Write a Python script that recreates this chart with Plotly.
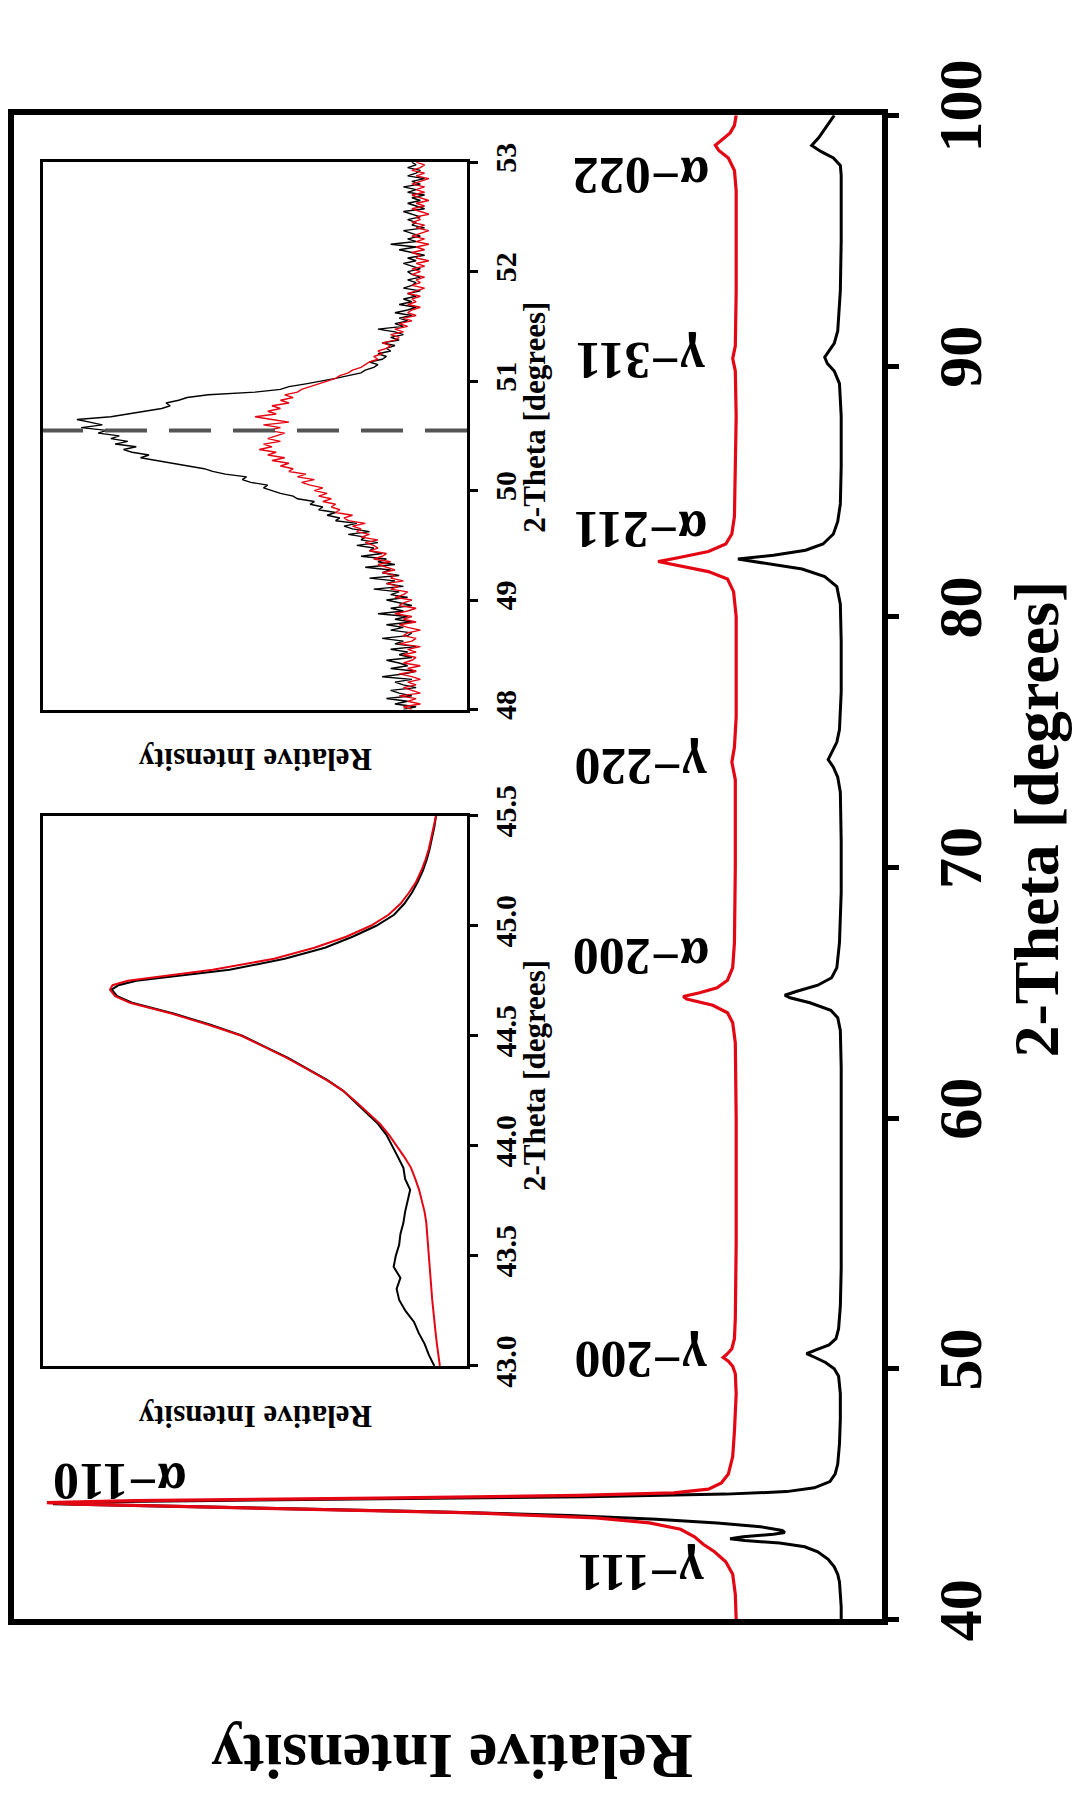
import plotly.graph_objects as go

# ---------------- main XRD patterns (2-theta, relative intensity) ----------------
theta_black = [40.0, 40.5, 41.0, 41.5, 41.8, 42.1, 42.4, 42.7, 42.9, 43.05, 43.15, 43.22, 43.3, 43.4,
               43.47, 43.55, 43.7, 43.85, 44.0, 44.15, 44.3, 44.45, 44.55, 44.62, 44.7, 44.8, 44.9,
               45.0, 45.1, 45.25, 45.5, 45.8, 46.2, 47.0, 48.0, 49.0, 49.7, 50.0, 50.25, 50.45, 50.6,
               50.75, 50.95, 51.2, 51.6, 52.5, 54.0, 56.0, 58.0, 60.0, 62.0, 63.5, 64.0, 64.3, 64.6,
               64.8, 64.9, 65.05, 65.3, 65.6, 66.0, 67.0, 69.0, 71.0, 73.0, 73.6, 74.0, 74.3, 74.6,
               75.0, 75.5, 77.0, 79.0, 80.5, 81.2, 81.6, 81.9, 82.1, 82.3, 82.45, 82.65, 82.9, 83.3,
               83.8, 84.5, 86.0, 88.0, 89.3, 89.8, 90.1, 90.35, 90.6, 90.9, 91.4, 93.0, 95.0, 97.0,
               97.6, 98.0, 98.3, 98.55, 98.8, 99.1, 99.4, 99.7, 100.0]
int_black = [0.047, 0.047, 0.048, 0.049, 0.051, 0.055, 0.062, 0.074, 0.089, 0.118, 0.158, 0.175, 0.160, 0.125,
             0.112, 0.115, 0.140, 0.190, 0.260, 0.360, 0.520, 0.740, 0.880, 0.955, 0.900, 0.620, 0.340,
             0.180, 0.110, 0.078, 0.060, 0.054, 0.051, 0.049, 0.048, 0.048, 0.050, 0.055, 0.065, 0.077, 0.087,
             0.076, 0.061, 0.053, 0.050, 0.048, 0.047, 0.047, 0.047, 0.047, 0.047, 0.048, 0.051, 0.059, 0.083,
             0.106, 0.112, 0.099, 0.074, 0.058, 0.052, 0.049, 0.047, 0.047, 0.048, 0.051, 0.056, 0.062, 0.058,
             0.052, 0.049, 0.047, 0.047, 0.048, 0.052, 0.066, 0.092, 0.130, 0.166, 0.125, 0.088, 0.068, 0.056,
             0.051, 0.048, 0.047, 0.047, 0.049, 0.055, 0.063, 0.066, 0.061, 0.055, 0.051, 0.048, 0.047, 0.047,
             0.047, 0.048, 0.056, 0.070, 0.081, 0.073, 0.067, 0.060, 0.055]

theta_red = [40.0, 41.0, 41.8, 42.3, 42.7, 43.0, 43.3, 43.6, 43.85, 44.05, 44.25, 44.4, 44.52, 44.6, 44.66,
             44.74, 44.84, 44.95, 45.05, 45.2, 45.45, 45.8, 46.5, 47.5, 49.0, 49.8, 50.1, 50.3, 50.45,
             50.6, 50.8, 51.2, 52.0, 55.0, 60.0, 63.0, 63.8, 64.2, 64.5, 64.75, 64.85, 65.0, 65.2, 65.5,
             66.0, 67.0, 70.0, 73.5, 74.2, 74.8, 76.0, 80.0, 81.0, 81.5, 81.8, 82.05, 82.2, 82.35, 82.6,
             82.9, 83.3, 84.0, 88.0, 89.8, 90.3, 90.8, 93.0, 97.0, 97.8, 98.3, 98.6, 98.8, 99.0, 99.3,
             99.6, 100.0]
int_red = [0.168, 0.169, 0.172, 0.180, 0.193, 0.206, 0.216, 0.232, 0.268, 0.330, 0.470, 0.660, 0.840, 0.930, 0.962,
           0.860, 0.580, 0.350, 0.240, 0.200, 0.185, 0.177, 0.172, 0.170, 0.168, 0.169, 0.172, 0.177, 0.183,
           0.178, 0.173, 0.170, 0.169, 0.168, 0.168, 0.169, 0.172, 0.178, 0.195, 0.225, 0.229, 0.210, 0.190, 0.178,
           0.172, 0.170, 0.169, 0.169, 0.173, 0.170, 0.168, 0.168, 0.171, 0.178, 0.200, 0.235, 0.258, 0.235, 0.200,
           0.180, 0.173, 0.170, 0.168, 0.169, 0.172, 0.169, 0.168, 0.168, 0.170, 0.177, 0.188, 0.192, 0.185, 0.175,
           0.170, 0.168]

# peak labels
peak_names = ["γ−111", "α−110", "γ−200", "α−200", "γ−220", "α−211", "γ−311", "α−022"]
peak_label_theta = [41.9, 45.5, 50.4, 66.45, 74.0, 83.5, 90.2, 97.6]
peak_label_int = [0.278, 0.878, 0.278, 0.278, 0.278, 0.278, 0.278, 0.278]

main_ticks = [40, 50, 60, 70, 80, 90, 100]

# ---------------- inset A : 48 - 53 degrees (gamma-200 region), 0.025 deg steps ----------------
insetA_theta = [round(48.0 + 0.025 * k, 3) for k in range(201)]
insetA_black = [
    0.15, 0.12, 0.17, 0.14, 0.19, 0.13, 0.16, 0.18, 0.12, 0.15,
    0.17, 0.13, 0.20, 0.15, 0.12, 0.18, 0.14, 0.16, 0.19, 0.13,
    0.16, 0.14, 0.18, 0.12, 0.17, 0.15, 0.20, 0.14, 0.13, 0.18,
    0.15, 0.19, 0.13, 0.17, 0.14, 0.21, 0.15, 0.18, 0.13, 0.16,
    0.19, 0.14, 0.18, 0.16, 0.22, 0.15, 0.19, 0.17, 0.23, 0.16,
    0.20, 0.18, 0.24, 0.17, 0.21, 0.19, 0.25, 0.20, 0.23, 0.22,
    0.26, 0.21, 0.25, 0.24, 0.28, 0.23, 0.27, 0.29, 0.26, 0.31,
    0.30, 0.33, 0.31, 0.35, 0.34, 0.37, 0.36, 0.40, 0.41, 0.44,
    0.46, 0.48, 0.47, 0.51, 0.53, 0.52, 0.57, 0.60, 0.62, 0.66,
    0.70, 0.74, 0.77, 0.75, 0.79, 0.81, 0.78, 0.83, 0.80, 0.84,
    0.82, 0.87, 0.85, 0.91, 0.86, 0.89, 0.92, 0.84, 0.80, 0.76,
    0.72, 0.70, 0.71, 0.68, 0.66, 0.61, 0.50, 0.44, 0.42, 0.38,
    0.34, 0.31, 0.28, 0.25, 0.24, 0.22, 0.21, 0.23, 0.20, 0.19,
    0.21, 0.18, 0.19, 0.17, 0.20, 0.16, 0.18, 0.15, 0.17, 0.21,
    0.15, 0.17, 0.14, 0.16, 0.13, 0.17, 0.14, 0.12, 0.16, 0.13,
    0.15, 0.12, 0.14, 0.11, 0.15, 0.13, 0.12, 0.14, 0.11, 0.13,
    0.14, 0.11, 0.13, 0.15, 0.12, 0.14, 0.10, 0.13, 0.16, 0.12,
    0.18, 0.12, 0.14, 0.11, 0.13, 0.15, 0.10, 0.13, 0.12, 0.14,
    0.11, 0.13, 0.15, 0.10, 0.12, 0.14, 0.11, 0.13, 0.10, 0.14,
    0.12, 0.15, 0.11, 0.13, 0.10, 0.14, 0.12, 0.11, 0.14, 0.12,
    0.13]
insetA_red = [
    0.13, 0.15, 0.11, 0.14, 0.12, 0.16, 0.11, 0.13, 0.15, 0.12,
    0.14, 0.11, 0.13, 0.16, 0.12, 0.14, 0.11, 0.15, 0.13, 0.12,
    0.15, 0.12, 0.14, 0.11, 0.16, 0.13, 0.12, 0.15, 0.14, 0.11,
    0.14, 0.16, 0.12, 0.15, 0.13, 0.17, 0.14, 0.12, 0.16, 0.15,
    0.13, 0.17, 0.15, 0.14, 0.18, 0.16, 0.19, 0.15, 0.18, 0.17,
    0.20, 0.17, 0.19, 0.21, 0.18, 0.22, 0.20, 0.19, 0.23, 0.21,
    0.22, 0.24, 0.21, 0.25, 0.23, 0.26, 0.25, 0.27, 0.24, 0.28,
    0.29, 0.27, 0.31, 0.30, 0.32, 0.31, 0.34, 0.32, 0.35, 0.33,
    0.36, 0.34, 0.37, 0.39, 0.36, 0.40, 0.38, 0.42, 0.41, 0.44,
    0.42, 0.46, 0.43, 0.47, 0.45, 0.49, 0.46, 0.48, 0.44, 0.47,
    0.45, 0.43, 0.47, 0.44, 0.48, 0.42, 0.46, 0.50, 0.45, 0.47,
    0.44, 0.46, 0.42, 0.44, 0.41, 0.43, 0.40, 0.39, 0.37, 0.35,
    0.33, 0.31, 0.30, 0.28, 0.27, 0.25, 0.24, 0.23, 0.21, 0.22,
    0.20, 0.21, 0.19, 0.18, 0.20, 0.17, 0.16, 0.18, 0.15, 0.17,
    0.14, 0.16, 0.13, 0.15, 0.12, 0.14, 0.13, 0.11, 0.14, 0.12,
    0.13, 0.11, 0.14, 0.12, 0.10, 0.13, 0.11, 0.12, 0.10, 0.13,
    0.11, 0.13, 0.10, 0.12, 0.09, 0.12, 0.11, 0.13, 0.10, 0.12,
    0.09, 0.12, 0.10, 0.13, 0.11, 0.09, 0.12, 0.10, 0.13, 0.11,
    0.12, 0.09, 0.11, 0.13, 0.10, 0.12, 0.09, 0.11, 0.13, 0.10,
    0.12, 0.10, 0.13, 0.11, 0.09, 0.12, 0.10, 0.13, 0.11, 0.10,
    0.12]
insetA_marker_theta = 50.55
insetA_ticks = [48, 49, 50, 51, 52, 53]

# ---------------- inset B : 43.0 - 45.5 degrees (alpha-110 region) ----------------
insetB_theta = [43.00, 43.05, 43.10, 43.15, 43.20, 43.25, 43.30, 43.35, 43.40, 43.45, 43.50, 43.55, 43.60, 43.65,
                43.70, 43.75, 43.80, 43.85, 43.90, 43.95, 44.00, 44.05, 44.10, 44.15, 44.20, 44.25, 44.30, 44.35,
                44.40, 44.45, 44.50, 44.55, 44.60, 44.65, 44.68, 44.71, 44.73, 44.75, 44.80, 44.85, 44.90, 44.95,
                45.00, 45.05, 45.10, 45.15, 45.20, 45.25, 45.30, 45.35, 45.40, 45.45, 45.50]
insetB_black = [0.077, 0.090, 0.100, 0.114, 0.125, 0.145, 0.160, 0.166, 0.157, 0.173, 0.168, 0.160, 0.157, 0.150,
                0.146, 0.140, 0.134, 0.146, 0.150, 0.163, 0.176, 0.190, 0.210, 0.238, 0.264, 0.292, 0.330, 0.376,
                0.422, 0.476, 0.530, 0.605, 0.690, 0.790, 0.825, 0.838, 0.822, 0.780, 0.560, 0.430, 0.335, 0.270,
                0.214, 0.172, 0.148, 0.130, 0.116, 0.104, 0.095, 0.088, 0.082, 0.077, 0.073]
insetB_red = [0.064, 0.068, 0.071, 0.074, 0.077, 0.080, 0.082, 0.084, 0.086, 0.088, 0.090, 0.091, 0.093, 0.096,
              0.100, 0.106, 0.113, 0.122, 0.132, 0.148, 0.165, 0.184, 0.205, 0.233, 0.262, 0.292, 0.332, 0.378,
              0.425, 0.478, 0.532, 0.610, 0.695, 0.795, 0.830, 0.842, 0.836, 0.800, 0.600, 0.455, 0.360, 0.285,
              0.227, 0.185, 0.157, 0.137, 0.120, 0.108, 0.098, 0.090, 0.084, 0.078, 0.073]
insetB_ticks = [43.0, 43.5, 44.0, 44.5, 45.0, 45.5]

BLACK = "#000000"
RED = "#e30613"
SERIF = "Liberation Serif"

fig = go.Figure()

# main traces
fig.add_trace(go.Scatter(x=int_black, y=theta_black, mode="lines",
                         line=dict(color=BLACK, width=3), xaxis="x", yaxis="y", hoverinfo="skip"))
fig.add_trace(go.Scatter(x=int_red, y=theta_red, mode="lines",
                         line=dict(color=RED, width=3.2), xaxis="x", yaxis="y", hoverinfo="skip"))

# inset A traces
fig.add_trace(go.Scatter(x=insetA_black, y=insetA_theta, mode="lines",
                         line=dict(color=BLACK, width=1.4), xaxis="x2", yaxis="y2", hoverinfo="skip"))
fig.add_trace(go.Scatter(x=insetA_red, y=insetA_theta, mode="lines",
                         line=dict(color=RED, width=1.4), xaxis="x2", yaxis="y2", hoverinfo="skip"))
fig.add_trace(go.Scatter(x=[0, 1], y=[insetA_marker_theta, insetA_marker_theta], mode="lines",
                         line=dict(color="#555555", width=4, dash="42px,22px"),
                         xaxis="x2", yaxis="y2", hoverinfo="skip"))

# inset B traces
fig.add_trace(go.Scatter(x=insetB_black, y=insetB_theta, mode="lines",
                         line=dict(color=BLACK, width=2), xaxis="x3", yaxis="y3", hoverinfo="skip"))
fig.add_trace(go.Scatter(x=insetB_red, y=insetB_theta, mode="lines",
                         line=dict(color=RED, width=2), xaxis="x3", yaxis="y3", hoverinfo="skip"))

W, H = 1074, 1807


def px_x(p):
    return p / W


def px_y(p):
    return (H - p) / H


main_x_dom = [px_x(14), px_x(882)]
main_y_dom = [px_y(1634), px_y(62)]
inset_x_dom = [px_x(43), px_x(467)]
insetA_y_dom = [px_y(683), px_y(111)]
insetB_y_dom = [px_y(1369), px_y(794)]

frame = dict(showline=True, linecolor=BLACK, mirror=True, showgrid=False, zeroline=False)

fig.update_layout(
    width=W, height=H,
    margin=dict(l=0, r=0, t=0, b=0),
    paper_bgcolor="white", plot_bgcolor="white",
    showlegend=False,
    xaxis=dict(domain=main_x_dom, range=[1.0, 0.0], anchor="y", showticklabels=False, ticks="",
               linewidth=6, **frame),
    yaxis=dict(domain=main_y_dom, range=[40, 100], anchor="x", side="right",
               tickvals=main_ticks, ticks="outside", ticklen=11, tickwidth=5, tickcolor=BLACK,
               tickangle=-90, ticklabelstandoff=8,
               tickfont=dict(family=SERIF, size=62, color=BLACK, weight="bold"),
               linewidth=6, **frame),
    xaxis2=dict(domain=inset_x_dom, range=[1.0, 0.0], anchor="y2", showticklabels=False, ticks="",
                linewidth=3, **frame),
    yaxis2=dict(domain=insetA_y_dom, range=[48, 53], anchor="x2", side="right",
                tickvals=insetA_ticks, ticks="outside", ticklen=8, tickwidth=3, tickcolor=BLACK,
                tickangle=-90, ticklabelstandoff=2,
                tickfont=dict(family=SERIF, size=30, color=BLACK, weight="bold"),
                linewidth=3, **frame),
    xaxis3=dict(domain=inset_x_dom, range=[1.0, 0.0], anchor="y3", showticklabels=False, ticks="",
                linewidth=3, **frame),
    yaxis3=dict(domain=insetB_y_dom, range=[43.0, 45.5], anchor="x3", side="right",
                tickvals=insetB_ticks, tickformat=".1f", ticks="outside", ticklen=8, tickwidth=3,
                tickcolor=BLACK, tickangle=-90, ticklabelstandoff=2,
                tickfont=dict(family=SERIF, size=30, color=BLACK, weight="bold"),
                linewidth=3, **frame),
)

annotations = []
# peak labels (rotated like the rest of the figure)
for name, th, it in zip(peak_names, peak_label_theta, peak_label_int):
    annotations.append(dict(text=name, x=it, y=th, xref="x", yref="y", showarrow=False,
                            textangle=180, xanchor="center", yanchor="middle",
                            font=dict(family=SERIF, size=52, color=BLACK, weight="bold")))

# axis titles
annotations.append(dict(text="2-Theta [degrees]", x=px_x(1037), y=px_y(798), xref="paper", yref="paper",
                        showarrow=False, textangle=-90, xanchor="center", yanchor="middle",
                        font=dict(family=SERIF, size=64, color=BLACK, weight="bold")))
annotations.append(dict(text="Relative Intensity", x=px_x(452), y=px_y(1777), xref="paper", yref="paper",
                        showarrow=False, textangle=180, xanchor="center", yanchor="middle",
                        font=dict(family=SERIF, size=64, color=BLACK, weight="bold")))
# inset titles
for yc in (378, 1066):
    annotations.append(dict(text="2-Theta [degrees]", x=px_x(535), y=px_y(yc), xref="paper", yref="paper",
                            showarrow=False, textangle=-90, xanchor="center", yanchor="middle",
                            font=dict(family=SERIF, size=31, color=BLACK, weight="bold")))
for yc in (736, 1422):
    annotations.append(dict(text="Relative Intensity", x=px_x(255), y=px_y(yc), xref="paper", yref="paper",
                            showarrow=False, textangle=180, xanchor="center", yanchor="middle",
                            font=dict(family=SERIF, size=31, color=BLACK, weight="bold")))

fig.update_layout(annotations=annotations)

fig.write_html("out.html")
